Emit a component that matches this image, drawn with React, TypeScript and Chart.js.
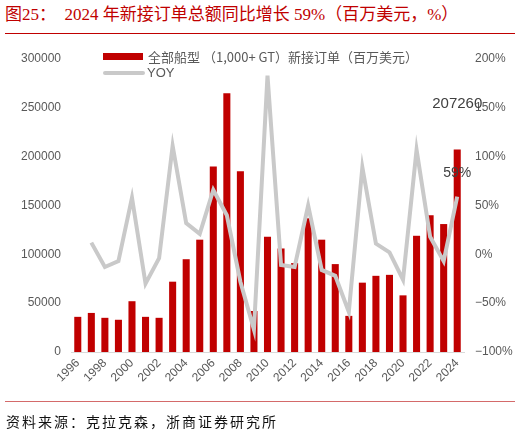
import { useEffect, useRef } from 'react';
import { Chart, registerables } from 'chart.js';

Chart.register(...registerables);

const years = [
  '1996', '1997', '1998', '1999', '2000', '2001', '2002', '2003', '2004', '2005',
  '2006', '2007', '2008', '2009', '2010', '2011', '2012', '2013', '2014', '2015',
  '2016', '2017', '2018', '2019', '2020', '2021', '2022', '2023', '2024',
];

// new orders, million USD
const orders = [
  36000, 40000, 35000, 33000, 52000, 36000, 35000, 72000, 95000, 115000,
  190000, 265000, 185000, 42000, 118000, 106000, 91000, 137000, 115000, 90000,
  37000, 71000, 78000, 79000, 58000, 119000, 140000, 131000, 207260,
];

// year over year, %
const yoy = [
  null, 12, -13, -7, 58, -30, -4, 111, 32, 21,
  66, 40, -28, -77, 183, -11, -13, 50, -16, -22,
  -59, 89, 11, 2, -26, 107, 18, -7, 59,
];

const barLabel = '全部船型 （1,000+ GT）新接订单（百万美元）';
const lineLabel = 'YOY';

const RED = '#c00000';
const GREY_LINE = '#c9c9c9';
const TICK = '#595959';
const SANS = '"Liberation Sans", Arial, sans-serif';
const CJK = '"Noto Sans CJK SC", "Liberation Sans", sans-serif';

const overlay = {
  id: 'overlay',
  afterDraw(chart: Chart) {
    const ctx = chart.ctx;
    ctx.save();

    // legend
    ctx.fillStyle = RED;
    ctx.fillRect(103, 53, 40, 7);
    ctx.strokeStyle = GREY_LINE;
    ctx.lineWidth = 4;
    ctx.lineCap = 'round';
    ctx.beginPath();
    ctx.moveTo(105, 73);
    ctx.lineTo(143, 73);
    ctx.stroke();
    ctx.fillStyle = TICK;
    ctx.textAlign = 'left';
    ctx.textBaseline = 'middle';
    ctx.font = `13px ${CJK}`;
    ctx.fillText(barLabel, 148, 57);
    ctx.font = `13px ${SANS}`;
    ctx.fillText(lineLabel, 147, 73);

    // last point labels
    const last = orders.length - 1;
    const bar = chart.getDatasetMeta(0).data[last];
    const pt = chart.getDatasetMeta(1).data[last];
    ctx.fillStyle = '#404040';
    ctx.textAlign = 'center';
    ctx.font = `15px ${SANS}`;
    ctx.fillText(String(orders[last]), bar.x, bar.y - 46);
    ctx.font = `14px ${SANS}`;
    ctx.fillText(`${yoy[last]}%`, pt.x, pt.y - 24);

    ctx.restore();
  },
};

const App = () => {
  const canvasRef = useRef<HTMLCanvasElement>(null);
  const chartRef = useRef<Chart | null>(null);

  useEffect(() => {
    if (!canvasRef.current) return;
    if (chartRef.current) chartRef.current.destroy();

    chartRef.current = new Chart(canvasRef.current, {
      type: 'bar',
      data: {
        labels: years,
        datasets: [
          {
            type: 'bar',
            label: barLabel,
            data: orders,
            backgroundColor: RED,
            barPercentage: 0.52,
            categoryPercentage: 1,
            yAxisID: 'y',
            order: 2,
          },
          {
            type: 'line',
            label: lineLabel,
            data: yoy,
            borderColor: GREY_LINE,
            borderWidth: 4,
            pointRadius: 0,
            tension: 0,
            yAxisID: 'y1',
            order: 1,
          },
        ],
      },
      options: {
        responsive: false,
        animation: false,
        layout: { padding: { top: 59, left: 0, right: 0, bottom: 0 } },
        plugins: {
          legend: { display: false },
          tooltip: { enabled: false },
        },
        scales: {
          x: {
            grid: { display: false, drawTicks: false },
            border: { color: '#d9d9d9', width: 1 },
            ticks: {
              autoSkip: false,
              minRotation: 45,
              maxRotation: 45,
              padding: 4,
              color: TICK,
              font: { family: SANS, size: 12 },
              callback: (_v: any, i: number) => (i % 2 === 0 ? years[i] : ''),
            },
            afterFit: (s: any) => {
              s.height = 81;
            },
          },
          y: {
            position: 'left',
            min: 0,
            max: 300000,
            grid: { display: false, drawTicks: false },
            border: { display: false },
            ticks: {
              stepSize: 50000,
              padding: 10,
              color: TICK,
              font: { family: SANS, size: 12 },
              callback: (v: any) => String(v),
            },
            afterFit: (s: any) => {
              s.width = 71;
            },
          },
          y1: {
            position: 'right',
            min: -100,
            max: 200,
            grid: { display: false, drawTicks: false },
            border: { display: false },
            ticks: {
              stepSize: 50,
              padding: 11,
              color: TICK,
              font: { family: SANS, size: 12 },
              callback: (v: any) => `${Number(v) < 0 ? '\u2212' + Math.abs(Number(v)) : v}%`,
            },
            afterFit: (s: any) => {
              s.width = 57;
            },
          },
        },
      },
      plugins: [overlay],
    });

    return () => {
      if (chartRef.current) {
        chartRef.current.destroy();
        chartRef.current = null;
      }
    };
  }, []);

  return (
    <div style={{ position: 'absolute', left: 0, top: 0, width: 521, height: 433, background: '#fff' }}>
      <div
        style={{
          position: 'absolute',
          left: 5,
          top: 4,
          fontSize: 17,
          lineHeight: '22px',
          color: RED,
          fontFamily: '"Liberation Serif", "Noto Sans CJK SC", serif',
          whiteSpace: 'nowrap',
        }}
      >
        图25：&nbsp;&nbsp;2024 年新接订单总额同比增长 59%（百万美元，%）
      </div>
      <div style={{ position: 'absolute', left: 5, top: 33, width: 510, height: 1, background: RED }} />
      <canvas ref={canvasRef} width={521} height={433} style={{ position: 'absolute', left: 0, top: 0 }} />
      <div style={{ position: 'absolute', left: 5, top: 401, width: 510, height: 1, background: '#d46a6a' }} />
      <div
        style={{
          position: 'absolute',
          left: 6,
          top: 411,
          fontSize: 14,
          lineHeight: '20px',
          letterSpacing: 2,
          color: '#111',
          fontFamily: CJK,
          whiteSpace: 'nowrap',
        }}
      >
        资料来源：克拉克森，浙商证券研究所
      </div>
    </div>
  );
};

export default App;
